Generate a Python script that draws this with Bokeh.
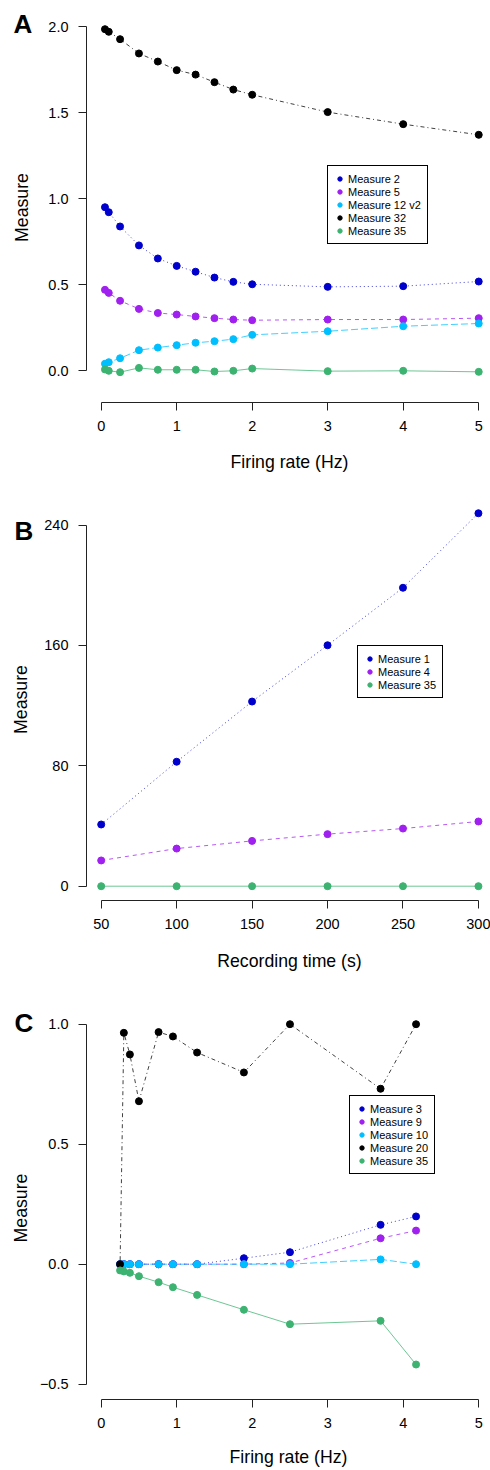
from bokeh.plotting import figure
from bokeh.models import FixedTicker, Legend, LegendItem, Label, CustomJSTickFormatter, Range1d
from bokeh.layouts import column
from bokeh.embed import file_html
from bokeh.resources import INLINE

# ---------------- data ----------------
# Panel A
rate_a = [0.05, 0.1, 0.25, 0.5, 0.75, 1.0, 1.25, 1.5, 1.75, 2.0, 3.0, 4.0, 5.0]
m2_a = [0.951, 0.922, 0.839, 0.729, 0.653, 0.610, 0.576, 0.542, 0.517, 0.503, 0.488, 0.492, 0.519]
m5_a = [0.471, 0.453, 0.407, 0.360, 0.336, 0.327, 0.316, 0.306, 0.298, 0.294, 0.298, 0.298, 0.306]
m12v2_a = [0.041, 0.050, 0.073, 0.120, 0.135, 0.149, 0.163, 0.172, 0.184, 0.209, 0.230, 0.259, 0.275]
m32_a = [1.986, 1.971, 1.928, 1.845, 1.798, 1.748, 1.722, 1.678, 1.635, 1.605, 1.504, 1.434, 1.372]
m35_a = [0.008, 0.0, -0.008, 0.017, 0.006, 0.006, 0.006, -0.004, 0.0, 0.013, -0.002, 0.0, -0.006]

# Panel B
time_b = [50, 100, 150, 200, 250, 300]
m1_b = [41.0, 82.7, 122.7, 160.1, 198.3, 247.8]
m4_b = [17.1, 25.0, 30.1, 34.6, 38.3, 43.0]
m35_b = [0, 0, 0, 0, 0, 0]

# Panel C
rate_c = [0.25, 0.30, 0.38, 0.50, 0.76, 0.95, 1.27, 1.89, 2.50, 3.70, 4.17]
m3_c = [0, 0, 0, 0, 0, 0, 0, 0.025, 0.05, 0.164, 0.199]
m9_c = [0, 0, 0, 0, 0, 0, 0, 0, 0.005, 0.108, 0.140]
m10_c = [0, 0, 0, 0, 0, 0, 0, 0, 0, 0.020, 0.0]
m20_c = [0.0, 0.964, 0.874, 0.679, 0.967, 0.949, 0.882, 0.799, 1.0, 0.731, 1.0]
m35_c = [-0.026, -0.030, -0.036, -0.050, -0.075, -0.096, -0.128, -0.190, -0.250, -0.236, -0.418]

ticks_rate = [0, 1, 2, 3, 4, 5]
ticks_a_y = [0.0, 0.5, 1.0, 1.5, 2.0]
ticks_time = [50, 100, 150, 200, 250, 300]
ticks_b_y = [0, 80, 160, 240]
ticks_c_y = [-0.5, 0.0, 0.5, 1.0]

# ---------------- styles ----------------
FONT = "Liberation Sans"
BLUE = "#0000CD"
PURPLE = "#A020F0"
CYAN = "#00BFFF"
BLACK = "#000000"
GREEN = "#3CB371"
DOTTED = "1 3"
DASHED = "4 4"
LONGDASH = "7 3"
DOTDASH = "1 3 4 3"
SOLID = "solid"

fmt1 = CustomJSTickFormatter(code="""
const s = Math.abs(tick).toFixed(1);
return tick < 0 ? "\u2212" + s : s;
""")


def make_panel(h, bt, bb, xr, yr, xb, yb, xt, yt, ystand, yfmt=None):
    p = figure(width=490, height=h, output_backend="svg", toolbar_location=None,
               x_range=Range1d(*xr), y_range=Range1d(*yr),
               min_border_left=86, min_border_right=0, min_border_top=bt, min_border_bottom=bb)
    p.grid.visible = False
    p.outline_line_color = None
    p.background_fill_color = "white"
    for ax in (p.xaxis[0], p.yaxis[0]):
        ax.major_tick_out = 8
        ax.major_tick_in = 0
        ax.minor_tick_line_color = None
        ax.axis_line_color = "#222222"
        ax.major_tick_line_color = "#222222"
        ax.major_label_text_font = FONT
        ax.major_label_text_font_size = "14.5px"
        ax.major_label_text_color = "black"
        ax.major_label_standoff = 10
        ax.axis_label_text_font = FONT
        ax.axis_label_text_font_size = "17.7px"
        ax.axis_label_text_font_style = "normal"
        ax.axis_label_text_color = "black"
    p.xaxis.bounds = xb
    p.yaxis.bounds = yb
    p.xaxis.ticker = FixedTicker(ticks=xt)
    p.yaxis.ticker = FixedTicker(ticks=yt)
    if yfmt is not None:
        p.yaxis.formatter = yfmt
    p.yaxis.axis_label = "Measure"
    p.yaxis.axis_label_standoff = ystand
    return p


def series(p, x, y, color, dash):
    p.line(x, y, line_color=color, line_dash=dash, line_width=1, line_alpha=0.75)
    return p.scatter(x, y, size=7, fill_color=color, line_color=color)


def add_legend(p, items, loc):
    lg = Legend(items=[LegendItem(label=l, renderers=[r]) for l, r in items],
                location=loc, orientation="vertical", padding=6, spacing=0, margin=0,
                glyph_height=13, glyph_width=11, label_height=13, label_standoff=3,
                label_text_font=FONT, label_text_font_size="11px", label_text_color="black",
                border_line_color="black", border_line_width=1, border_line_alpha=1,
                background_fill_color="white", background_fill_alpha=1)
    p.add_layout(lg)


def panel_letter(p, x, y, t, side):
    p.add_layout(Label(x=x, y=y, x_units="canvas", y_units="canvas", text=t,
                       text_font=FONT, text_font_style="bold",
                       text_font_size="26px", text_baseline="middle", text_align="left",
                       text_color="black"), side)


def x_title(p, x, y, t):
    p.add_layout(Label(x=x, y=y, x_units="canvas", y_units="canvas", text=t,
                       text_font=FONT, text_font_size="17.7px", text_baseline="middle",
                       text_align="center", text_color="black"), "below")


# ---------------- Panel A ----------------
pa = make_panel(490, 12, 88, (-0.1947, 5.156), (-0.1843, 2.0831), (0, 5), (0, 2),
                ticks_rate, ticks_a_y, 13, fmt1)
ra = []
ra.append(("Measure 2", series(pa, rate_a, m2_a, BLUE, DOTTED)))
ra.append(("Measure 5", series(pa, rate_a, m5_a, PURPLE, DASHED)))
ra.append(("Measure 12 v2", series(pa, rate_a, m12v2_a, CYAN, LONGDASH)))
ra.append(("Measure 32", series(pa, rate_a, m32_a, BLACK, DOTDASH)))
ra.append(("Measure 35", series(pa, rate_a, m35_a, GREEN, SOLID)))
add_legend(pa, ra, (241, 158))
x_title(pa, 289, 461.5, "Firing rate (Hz)")
panel_letter(pa, 13, 23, "A", "below")

# ---------------- Panel B ----------------
pb = make_panel(496, 8, 86, (40.26, 308.0), (-9.50, 257.61), (50, 300), (0, 240),
                ticks_time, ticks_b_y, 10)
rb = []
rb.append(("Measure 1", series(pb, time_b, m1_b, BLUE, DOTTED)))
rb.append(("Measure 4", series(pb, time_b, m4_b, PURPLE, DASHED)))
rb.append(("Measure 35", series(pb, time_b, m35_b, GREEN, SOLID)))
add_legend(pb, rb, (271, 202))
x_title(pb, 289, 470.3, "Recording time (s)")
panel_letter(pb, 14, 40, "B", "below")

# ---------------- Panel C ----------------
pc = make_panel(484, 30, 71, (-0.1947, 5.156), (-0.5638, 1.0321), (0, 5), (-0.5, 1.0),
                ticks_rate, ticks_c_y, 6, fmt1)
pc.xaxis.axis_label = "Firing rate (Hz)"
pc.xaxis.axis_label_standoff = 16
rc = []
rc.append(("Measure 3", series(pc, rate_c, m3_c, BLUE, DOTTED)))
rc.append(("Measure 9", series(pc, rate_c, m9_c, PURPLE, DASHED)))
rc.append(("Measure 10", series(pc, rate_c, m10_c, CYAN, LONGDASH)))
rc.append(("Measure 20", series(pc, rate_c, m20_c, BLACK, DOTDASH)))
rc.append(("Measure 35", series(pc, rate_c, m35_c, GREEN, SOLID)))
add_legend(pc, rc, (263, 225))
panel_letter(pc, 14, 36.4, "C", "above")

layout = column(pa, pb, pc, spacing=0)
open("out.html", "w").write(file_html(layout, INLINE))
